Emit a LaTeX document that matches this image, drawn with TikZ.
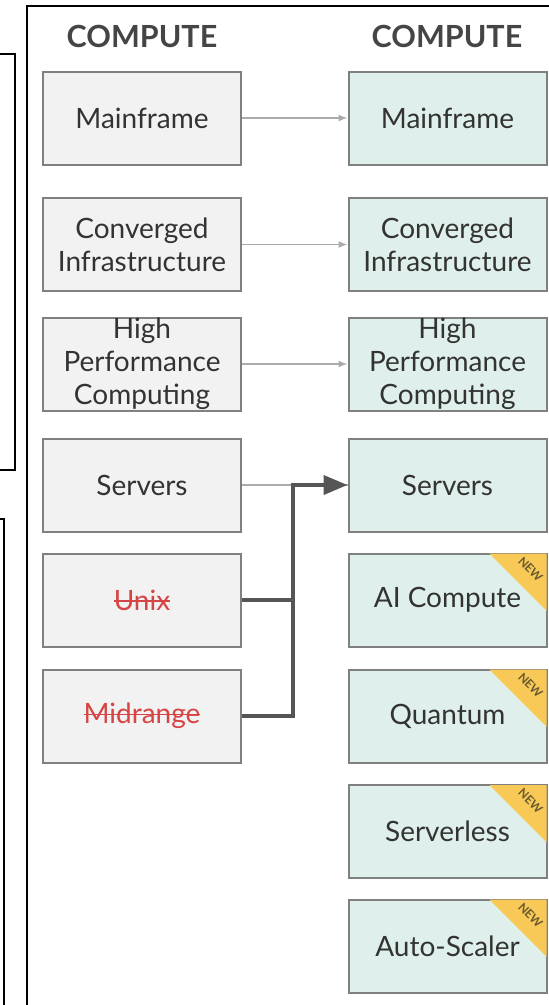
\documentclass[tikz,border=0pt]{standalone}
\usepackage{fontspec}
\setmainfont{Lato}
\usetikzlibrary{arrows.meta}

\definecolor{oldfill}{HTML}{F2F2F2}
\definecolor{newfill}{HTML}{DFF0EC}
\definecolor{boxgray}{HTML}{808080}
\definecolor{txtgray}{HTML}{333333}
\definecolor{headgray}{HTML}{454545}
\definecolor{gonered}{HTML}{D64545}
\definecolor{badgeyellow}{HTML}{F8C957}
\definecolor{flaggray}{HTML}{6A5A30}
\definecolor{thingray}{HTML}{ABABAB}
\definecolor{thickgray}{HTML}{555555}

\tikzset{
  oldbox/.style={draw=boxgray, line width=2pt, fill=oldfill, minimum width=198pt,
    minimum height=93pt, inner sep=0pt, align=center, text=txtgray,
    font=\fontsize{28}{33}\selectfont},
  newbox/.style={oldbox, fill=newfill},
  header/.style={text=headgray, font=\fontsize{30.5}{34}\selectfont\bfseries},
  flagtext/.style={text=flaggray, rotate=-45, inner sep=0pt, font=\fontsize{12}{14}\selectfont\bfseries},
  thinarrow/.style={draw=thingray, line width=1.5pt, -{Latex[length=9pt,width=7pt]}},
  thinline/.style={draw=thingray, line width=1.5pt},
  thickline/.style={draw=thickgray, line width=4pt},
  thickarrow/.style={thickline, -{Triangle[length=24pt,width=19pt]}}
}

\newlength{\gonewd}
\newcommand{\gone}[1]{\settowidth{\gonewd}{#1}%
  \textcolor{gonered}{\rlap{\rule[0.3em]{\gonewd}{1.6pt}}#1}}
\newcommand{\markNew}[1]{%
  \fill[badgeyellow] ([shift={(-58pt,-1pt)}]#1.north east) -- ([shift={(-1pt,-1pt)}]#1.north east)
    -- ([shift={(-1pt,-58pt)}]#1.north east) -- cycle;
  \node[flagtext] (#1-flag) at ([shift={(-17pt,-17pt)}]#1.north east) {NEW};}

\begin{document}
\begin{tikzpicture}[x=1pt, y=-1pt]
\useasboundingbox (0,0) rectangle (549,1005);
% frames cut off by the screenshot
\draw[line width=2pt] (0,54) -| (15,470) -- (0,470);
\draw[line width=2pt] (0,519) -| (4,1005);
\draw[line width=2pt] (27,1005) |- (549,6);

\node[header] (hold) at (142,36) {COMPUTE};
\node[header] (hnew) at (447,36) {COMPUTE};

% old column
\node[oldbox] (lmain) at (142,118) {Mainframe};
\node[oldbox] (lconv) at (142,244.5) {Converged\\Infrastructure};
\node[oldbox] (lhpc) at (142,364) {High\\Performance\\Computing};
\node[oldbox] (lserv) at (142,485) {Servers};
\node[oldbox] (lunix) at (142,600) {\gone{Unix}};
\node[oldbox] (lmid) at (142,716) {\gone{Midrange}};

% new column
\node[newbox] (rmain) at (447.5,118) {Mainframe};
\node[newbox] (rconv) at (447.5,244.5) {Converged\\Infrastructure};
\node[newbox] (rhpc) at (447.5,364) {High\\Performance\\Computing};
\node[newbox] (rserv) at (447.5,485) {Servers};
\node[newbox] (rai) at (447.5,600) {AI Compute};
\node[newbox] (rquant) at (447.5,716) {Quantum};
\node[newbox] (rsless) at (447.5,831.5) {Serverless};
\node[newbox] (rauto) at (447.5,946) {Auto-Scaler};

\markNew{rai}
\markNew{rquant}
\markNew{rsless}
\markNew{rauto}

\draw[thinarrow] (lmain) -- (rmain);
\draw[thinarrow] (lconv) -- (rconv);
\draw[thinarrow] (lhpc) -- (rhpc);
\draw[thinline] (lserv) -- (rserv);

\coordinate (join) at (293,485);
\draw[thickline] (lunix) -- (lunix -| join);
\draw[thickarrow] (lmid) -| (join) -- (rserv);
\end{tikzpicture}
\end{document}
